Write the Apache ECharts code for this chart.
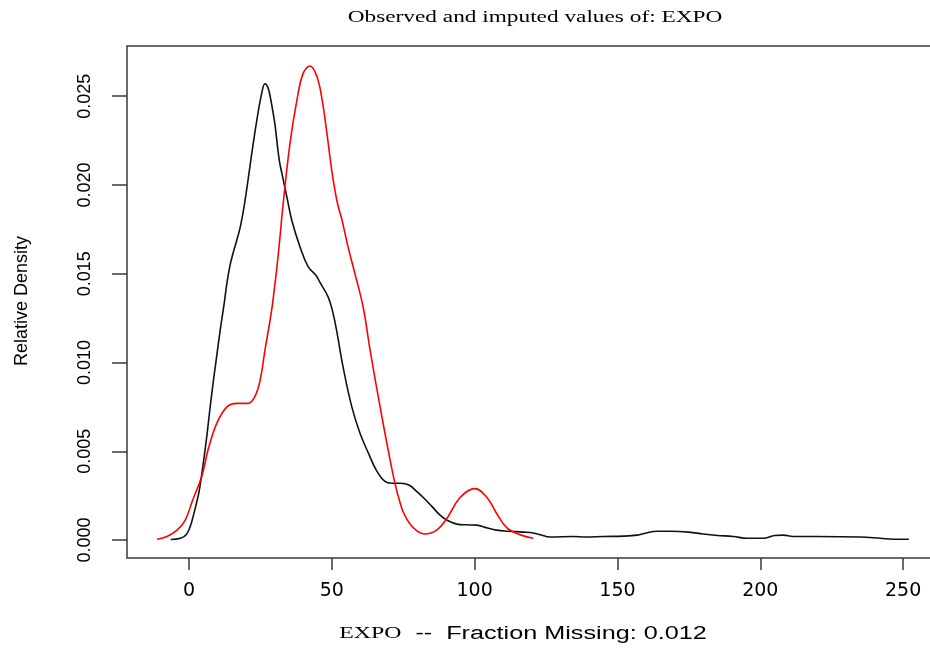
<!DOCTYPE html>
<html>
<head>
<meta charset="utf-8">
<script src="https://cdn.jsdelivr.net/npm/echarts@6/dist/echarts.min.js"></script>
<style>html,body{margin:0;padding:0;background:#fff}#c{width:930px;height:650px}</style>
</head>
<body>
<div id="c"></div>
<script>
// Observed density (black)
const obsX = [-6.4,-3,-1,0.5,1.4,2.5,3.5,4.9,6.2,7.2,8.4,9.4,10.9,12.3,13.3,14.4,15.5,17.9,19.6,22,23.7,25.5,26.6,27.6,28.4,29.3,30.1,31.6,32.6,34.3,36,38.9,41.7,44.5,45.9,48.7,50.4,51.8,54,57,59.9,62.8,65.7,68.6,71,74,77,80,82,85,87.9,90.5,93.8,97,100.7,104,107.7,112,117,120.5,123,126.4,134.5,139,145,152,156.9,160,163.8,168.4,175,180,185,190.5,195.4,201,205,208,211.5,220,235,242,246.5,252];
const obsY = [0.00003,0.0001,0.0003,0.0008,0.0013,0.0020,0.0027,0.0042,0.0058,0.0072,0.0088,0.0100,0.0118,0.0133,0.0145,0.0155,0.0162,0.0176,0.0191,0.0218,0.0236,0.0252,0.0257,0.0255,0.0250,0.0242,0.0234,0.0214,0.0206,0.0193,0.0180,0.0165,0.0154,0.0149,0.0145,0.0137,0.0128,0.0117,0.0097,0.0075,0.0060,0.0049,0.0039,0.0033,0.0032,0.0032,0.0031,0.0027,0.0024,0.0019,0.0014,0.0011,0.0009,0.00086,0.00084,0.0007,0.00056,0.0005,0.00045,0.0004,0.0003,0.00017,0.0002,0.00017,0.0002,0.00022,0.00028,0.0004,0.0005,0.0005,0.00045,0.00034,0.00026,0.0002,0.0001,0.0001,0.00026,0.00028,0.0002,0.0002,0.00017,0.0001,0.00005,0.00005];
// Imputed density (red)
const impX = [-11.2,-7.7,-4.2,-1.4,1.4,4.5,6.7,9.8,13.3,16.8,20.7,23.1,24.9,26.6,28.4,29.4,31.2,33,35.4,37.8,40,42.4,44.8,46.6,48.3,50,51.8,53.6,55.7,58.1,61,63.4,66.9,69.7,72.1,73.9,75.5,78.5,82.6,86.7,90.2,94.9,100.1,104.3,107.7,111.2,115.9,120.5];
const impY = [0.00005,0.0002,0.00056,0.0011,0.0023,0.0036,0.0051,0.0066,0.0075,0.0077,0.0077,0.0081,0.0090,0.0107,0.0124,0.0135,0.0160,0.0190,0.0224,0.0248,0.0263,0.0267,0.0261,0.0248,0.0229,0.0208,0.0191,0.0180,0.0165,0.0150,0.0131,0.0107,0.0075,0.0051,0.0032,0.0021,0.0014,0.0007,0.00034,0.00056,0.0012,0.0024,0.0029,0.0024,0.0015,0.0007,0.0003,0.0001];
const xTicks = [0,50,100,150,200,250];
const yTicks = [0,0.005,0.010,0.015,0.020,0.025];
const titleText = 'Observed and imputed values of: EXPO';
const xName = 'EXPO';
const xNameRest = '  --  Fraction Missing: 0.012';
const yName = 'Relative Density';

const zip = (a,b) => a.map((v,i)=>[v,b[i]]);
const chart = echarts.init(document.getElementById('c'), null, {renderer:'canvas'});
const axisCol = '#3a3a3a';
chart.setOption({
  animation:false,
  backgroundColor:'#fff',
  grid:{left:127, top:46, width:819, height:512, show:true, borderColor:axisCol, borderWidth:1.5,
    containLabel:false, outerBoundsMode:'none'},
  xAxis:{type:'value', min:-21.7, max:265,
    axisLine:{show:false, onZero:false},
    splitLine:{show:false},
    axisTick:{show:true, customValues:xTicks, length:12, lineStyle:{color:axisCol,width:1.5}},
    axisLabel:{customValues:xTicks, margin:24, fontFamily:'DejaVu Sans', fontSize:19, color:'#000'}
  },
  yAxis:{type:'value', min:-0.00101, max:0.02783,
    axisLine:{show:false, onZero:false},
    splitLine:{show:false},
    axisTick:{show:true, customValues:yTicks, length:15, lineStyle:{color:axisCol,width:1.5}},
    axisLabel:{customValues:yTicks, rotate:90, margin:33, fontFamily:'Liberation Sans', fontSize:18, color:'#000',
      formatter:v=>v.toFixed(3)}
  },
  graphic:[
    {type:'text', x:535, y:18, scaleX:1.37, style:{text:titleText, font:'17px "Liberation Serif"', fill:'#000', textAlign:'center', textVerticalAlign:'middle'}},
    {type:'text', x:523, y:634, scaleX:1.4, style:{text:'{a|'+xName+'}{b|'+xNameRest+'}', textAlign:'center', textVerticalAlign:'middle',
      rich:{a:{fontFamily:'Liberation Serif', fontSize:17, fill:'#000'}, b:{fontFamily:'Liberation Sans', fontSize:18, fill:'#000'}}}},
    {type:'text', x:22, y:301, rotation:Math.PI/2, style:{text:yName, font:'18px "Liberation Sans"', fill:'#000', textAlign:'center', textVerticalAlign:'middle'}}
  ],
  series:[
    {type:'line', data:zip(obsX,obsY), smooth:0.4, symbol:'none', lineStyle:{color:'#111', width:1.6}, z:3},
    {type:'line', data:zip(impX,impY), smooth:0.4, symbol:'none', lineStyle:{color:'#ff0000', width:1.6}, z:4}
  ]
});
</script>
</body>
</html>
